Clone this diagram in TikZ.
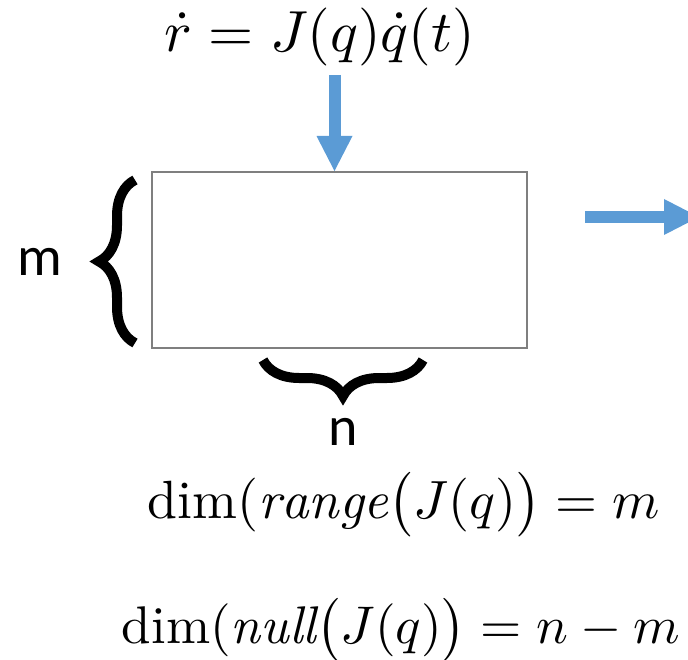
\documentclass[tikz,border=0pt]{standalone}
\usepackage{fontspec}
\usepackage{amsmath}
\newfontfamily\labelfont{Carlito}
\usetikzlibrary{arrows.meta,decorations.pathreplacing}
\definecolor{arrowblue}{HTML}{5B9BD5}
\definecolor{boxgray}{HTML}{7F7F7F}
\begin{document}
\begin{tikzpicture}[x=1pt,y=-1pt,
  blockarrow/.style={draw=arrowblue, line width=12pt, -{Triangle[length=35pt,width=36pt,line width=0pt,fill=arrowblue]}},
  bracestyle/.style={decorate, decoration={brace, amplitude=36pt}, line width=10pt},
  lbl/.style={font=\labelfont\fontsize{56}{60}\selectfont, inner sep=0pt},
  eq/.style={inner sep=0pt},
  jbox/.style={draw=boxgray, line width=2pt, minimum width=375pt, minimum height=176pt, inner sep=0pt}]
\clip (0,0) rectangle (688,660);
\node[jbox] (J) at (339.5,260) {};
\node[eq] (f) at (320,37) {\resizebox{310pt}{!}{$\dot r = J(q)\dot q(t)$}};
\coordinate (a1) at (334.5,75);
\draw[blockarrow] (a1) -- (a1 |- J.north);
\coordinate (b1) at (585,217);
\coordinate (b2) at (699,217);
\draw[blockarrow] (b1) -- (b2);
\draw[bracestyle] (135,343) -- (135,180);
\draw[bracestyle] (423,360) -- (263,360);
\node[lbl] (m) at (40,262) {m};
\node[lbl] (n) at (343,432) {n};
\node[eq] (d1) at (404,505) {\resizebox{512pt}{!}{$\dim(\mathit{range}\bigl(J(q)\bigr) = m$}};
\node[eq] (d2) at (401,630) {\resizebox{558pt}{!}{$\dim(\mathit{null}\bigl(J(q)\bigr) = n - m$}};
\end{tikzpicture}
\end{document}
